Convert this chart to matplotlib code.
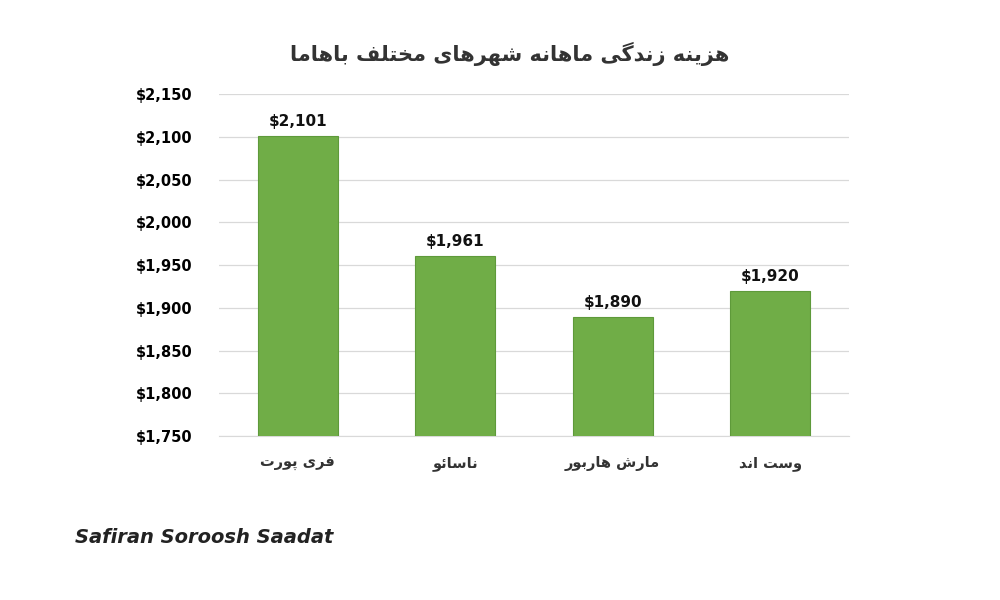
import matplotlib
matplotlib.use("Agg")
import matplotlib.pyplot as plt
from matplotlib.ticker import FuncFormatter, MultipleLocator

title = "هزینه زندگی ماهانه شهرهای مختلف باهاما"
categories = ["فری پورت", "ناسائو", "مارش هاربور", "وست اند"]
values = [2101, 1961, 1890, 1920]

FORMS = {
    'ا': (0xFE8D, 0xFE8E, None, None), 'د': (0xFEA9, 0xFEAA, None, None),
    'ر': (0xFEAD, 0xFEAE, None, None), 'ز': (0xFEAF, 0xFEB0, None, None),
    'و': (0xFEED, 0xFEEE, None, None),
    'ب': (0xFE8F, 0xFE90, 0xFE91, 0xFE92), 'پ': (0xFB56, 0xFB57, 0xFB58, 0xFB59),
    'ت': (0xFE95, 0xFE96, 0xFE97, 0xFE98), 'ج': (0xFE9D, 0xFE9E, 0xFE9F, 0xFEA0),
    'خ': (0xFEA5, 0xFEA6, 0xFEA7, 0xFEA8), 'س': (0xFEB1, 0xFEB2, 0xFEB3, 0xFEB4),
    'ش': (0xFEB5, 0xFEB6, 0xFEB7, 0xFEB8), 'ف': (0xFED1, 0xFED2, 0xFED3, 0xFED4),
    'ک': (0xFB8E, 0xFB8F, 0xFB90, 0xFB91), 'گ': (0xFB92, 0xFB93, 0xFB94, 0xFB95),
    'ل': (0xFEDD, 0xFEDE, 0xFEDF, 0xFEE0), 'م': (0xFEE1, 0xFEE2, 0xFEE3, 0xFEE4),
    'ن': (0xFEE5, 0xFEE6, 0xFEE7, 0xFEE8), 'ه': (0xFEE9, 0xFEEA, 0xFEEB, 0xFEEC),
    'ی': (0xFBFC, 0xFBFD, 0xFBFE, 0xFBFF), 'ئ': (0xFE89, 0xFE8A, 0xFE8B, 0xFE8C),
}

def shape(s):
    out = []
    n = len(s)
    for i, c in enumerate(s):
        if c not in FORMS:
            out.append(c); continue
        prev = s[i-1] if i > 0 else ''
        nxt = s[i+1] if i < n-1 else ''
        jp = prev in FORMS and FORMS[prev][2] is not None
        jn = nxt in FORMS and FORMS[c][2] is not None
        iso, fin, ini, med = FORMS[c]
        if jp and jn: f = med
        elif jp: f = fin
        elif jn: f = ini
        else: f = iso
        out.append(chr(f))
    return ''.join(out)[::-1]

plt.rcParams['font.family'] = 'DejaVu Sans'
fig = plt.figure(figsize=(10, 6), dpi=100)
ax = fig.add_axes([0.219, 0.273, 0.63, 0.57])
x = range(len(categories))
ax.bar(x, values, width=0.51, color='#70AD47', edgecolor='#5E9A3A', linewidth=0.8, zorder=3)
ax.set_ylim(1750, 2150)
ax.yaxis.set_major_locator(MultipleLocator(50))
ax.yaxis.set_major_formatter(FuncFormatter(lambda v, p: f"${v:,.0f}"))
ax.set_xlim(-0.5, len(categories) - 0.5)
ax.set_xticks(list(x))
ax.set_xticklabels([shape(c) for c in categories], fontsize=10.5, fontweight='bold', color='#333333')
ax.grid(axis='y', color='#D9D9D9', linewidth=0.9, zorder=0)
for s in ['top', 'right', 'left']:
    ax.spines[s].set_visible(False)
ax.spines['bottom'].set_color('#D9D9D9')
ax.tick_params(axis='both', length=0, labelsize=10.5)
ax.tick_params(axis='x', pad=14)
ax.tick_params(axis='y', pad=19)
for lab in ax.get_yticklabels():
    lab.set_fontweight('bold')
for xi, v in zip(x, values):
    ax.text(xi, v + 8, f"${v:,}", ha='center', va='bottom', fontsize=11, fontweight='bold', color='#111111')
fig.text(0.51, 0.91, shape(title), ha='center', va='center', fontsize=15, fontweight='bold', color='#333333')
fig.text(0.075, 0.095, "Safiran Soroosh Saadat", fontsize=14, fontweight='bold', style='italic', color='#222222')
fig.savefig("out.png", dpi=100, facecolor='white')
